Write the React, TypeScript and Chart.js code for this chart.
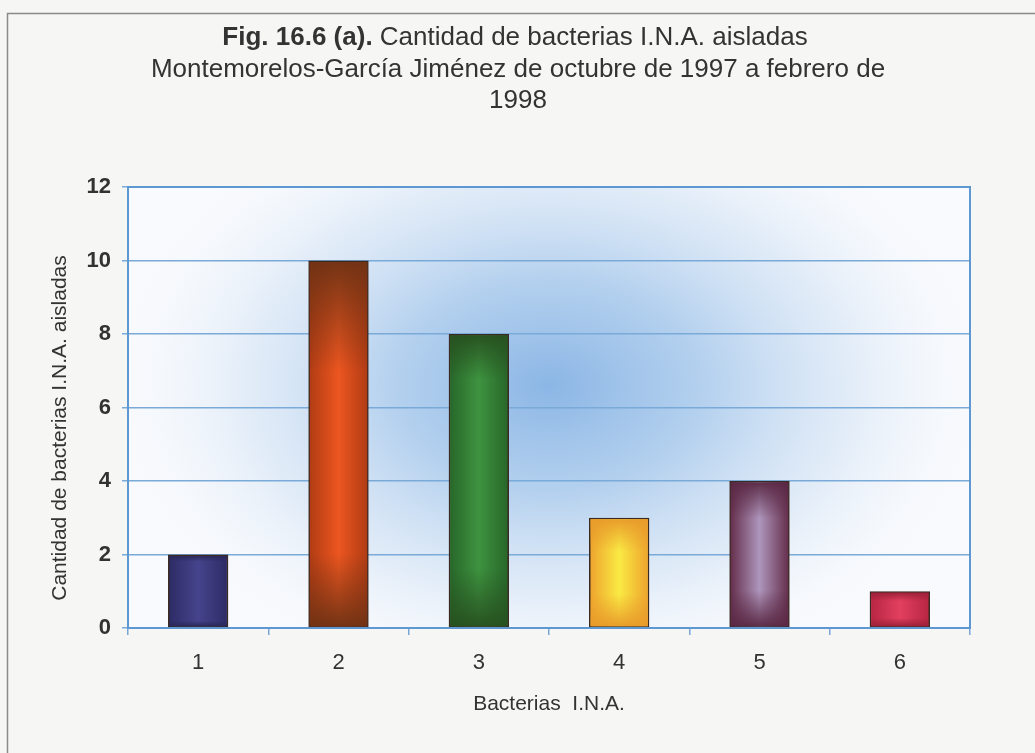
import React, { useEffect, useRef } from "react";
import { Chart, registerables } from "chart.js";

Chart.register(...registerables);

const categories = ["1", "2", "3", "4", "5", "6"];
const counts = [2, 10, 8, 3, 4, 1];
const yTicks = [0, 2, 4, 6, 8, 10, 12];

const barEdge = ["#2e2c66", "#b23c14", "#28682a", "#eea52e", "#66304e", "#b82644"];
const barCenter = ["#45448c", "#ec5620", "#3e9340", "#faea44", "#ae96bc", "#e2405e"];
const barShade = ["#2a2858", "#6e3214", "#27501f", "#e89a2a", "#5a2844", "#9c2038"];
const shadeTop = [0.08, 0.3, 0.15, 0.3, 0.25, 0.25];
const shadeBottom = [0.08, 0.2, 0.2, 0.3, 0.25, 0.25];

const titleBold = "Fig. 16.6 (a).";
const titleRest = " Cantidad de bacterias I.N.A. aisladas";
const titleLine2 = "Montemorelos-García Jiménez de octubre de 1997 a febrero de";
const titleLine3 = "1998";
const yTitle = "Cantidad de bacterias I.N.A. aisladas";
const xTitle = "Bacterias  I.N.A.";

const FONT = "'Liberation Sans', Arial, sans-serif";
const TEXT = "#333333";

function hexA(hex: string, a: number) {
  const n = parseInt(hex.slice(1), 16);
  return `rgba(${(n >> 16) & 255},${(n >> 8) & 255},${n & 255},${a})`;
}

const decor = {
  id: "decor",
  beforeDraw(chart: any) {
    const { ctx, width, height, chartArea: a } = chart;
    ctx.save();
    ctx.fillStyle = "#f6f6f5";
    ctx.fillRect(0, 0, width, height);
    ctx.strokeStyle = "#8a8a8a";
    ctx.lineWidth = 1.5;
    ctx.beginPath();
    ctx.moveTo(7.5, height);
    ctx.lineTo(7.5, 13.5);
    ctx.lineTo(width, 13.5);
    ctx.stroke();
    ctx.fillStyle = "#f8fafd";
    ctx.fillRect(a.left, a.top, a.right - a.left, a.bottom - a.top);
    ctx.save();
    ctx.beginPath();
    ctx.rect(a.left, a.top, a.right - a.left, a.bottom - a.top);
    ctx.clip();
    const cx = a.left + (a.right - a.left) * 0.5;
    const cy = a.top + (a.bottom - a.top) * 0.45;
    ctx.translate(cx, cy);
    ctx.scale(1.45, 1);
    const g = ctx.createRadialGradient(0, 0, 0, 0, 0, 300);
    g.addColorStop(0, "rgba(120,170,225,0.85)");
    g.addColorStop(0.35, "rgba(150,190,232,0.7)");
    g.addColorStop(0.7, "rgba(200,220,242,0.45)");
    g.addColorStop(1, "rgba(240,245,252,0)");
    ctx.fillStyle = g;
    ctx.fillRect(-400, -300, 800, 600);
    ctx.restore();
    ctx.restore();
  },
  afterDatasetsDraw(chart: any) {
    const { ctx } = chart;
    const meta = chart.getDatasetMeta(0);
    ctx.save();
    meta.data.forEach((bar: any, i: number) => {
      const w = bar.width;
      const x0 = bar.x - w / 2 + 1.5;
      const x1 = bar.x + w / 2 - 1.5;
      const y0 = Math.min(bar.y, bar.base) + 1.5;
      const y1 = Math.max(bar.y, bar.base) - 1;
      const h = y1 - y0;
      const hg = ctx.createLinearGradient(x0, 0, x1, 0);
      hg.addColorStop(0, barEdge[i]);
      hg.addColorStop(0.5, barCenter[i]);
      hg.addColorStop(1, barEdge[i]);
      ctx.fillStyle = hg;
      ctx.fillRect(x0, y0, x1 - x0, h);
      const vg = ctx.createLinearGradient(0, y0, 0, y1);
      vg.addColorStop(0, hexA(barShade[i], 0.95));
      vg.addColorStop(shadeTop[i], hexA(barShade[i], 0));
      vg.addColorStop(1 - shadeBottom[i], hexA(barShade[i], 0));
      vg.addColorStop(1, hexA(barShade[i], 0.95));
      ctx.fillStyle = vg;
      ctx.fillRect(x0, y0, x1 - x0, h);
    });
    ctx.restore();
  },
  afterDraw(chart: any) {
    const { ctx, chartArea: a } = chart;
    ctx.save();
    ctx.strokeStyle = "#5d98d2";
    ctx.lineWidth = 2;
    ctx.strokeRect(a.left, a.top, a.right - a.left, a.bottom - a.top);
    ctx.fillStyle = TEXT;
    ctx.textBaseline = "middle";
    const cx = 518;
    ctx.font = `bold 26px ${FONT}`;
    const wb = ctx.measureText(titleBold).width;
    ctx.font = `26px ${FONT}`;
    const wr = ctx.measureText(titleRest).width;
    const sx = 515 - (wb + wr) / 2;
    ctx.textAlign = "left";
    ctx.font = `bold 26px ${FONT}`;
    ctx.fillText(titleBold, sx, 38);
    ctx.font = `26px ${FONT}`;
    ctx.fillText(titleRest, sx + wb, 38);
    ctx.textAlign = "center";
    ctx.fillText(titleLine2, cx, 70);
    ctx.fillText(titleLine3, cx, 101);
    // y axis title
    ctx.save();
    ctx.translate(60, 428);
    ctx.rotate(-Math.PI / 2);
    ctx.font = `21px ${FONT}`;
    ctx.fillText(yTitle, 0, 0);
    ctx.restore();
    ctx.restore();
  },
};

export default function App() {
  const ref = useRef<HTMLCanvasElement | null>(null);
  useEffect(() => {
    if (!ref.current) return;
    const chart = new Chart(ref.current, {
      type: "bar",
      data: {
        labels: categories,
        datasets: [
          {
            data: counts,
            backgroundColor: barCenter,
            borderColor: "#3a2a22",
            borderWidth: 2,
            borderSkipped: false,
            categoryPercentage: 1,
            barPercentage: 0.43,
          },
        ],
      },
      options: {
        animation: false,
        responsive: false,
        devicePixelRatio: 1,
        layout: { padding: { left: 30, right: 65, top: 187, bottom: 25 } },
        plugins: { legend: { display: false }, title: { display: false }, tooltip: { enabled: false } },
        scales: {
          x: {
            offset: true,
            grid: { drawOnChartArea: false, drawTicks: true, tickLength: 7, color: "#7aa6d6", lineWidth: 1.5 },
            border: { display: true, color: "#5d98d2", width: 2 },
            ticks: { color: TEXT, font: { family: FONT, size: 22 }, padding: 15 },
            title: { display: true, text: xTitle, color: TEXT, font: { family: FONT, size: 21 }, padding: { top: 0, bottom: 11 } },
            afterFit: (s: any) => { s.height = 100; },
          },
          y: {
            min: 0,
            max: 12,
            afterBuildTicks: (s: any) => { s.ticks = yTicks.map((v) => ({ value: v })); },
            grid: { color: "#7aaad8", lineWidth: 1.5, drawTicks: true, tickLength: 6 },
            border: { display: true, color: "#5d98d2", width: 2 },
            ticks: { color: TEXT, font: { family: FONT, size: 22, weight: "bold" }, padding: 11 },
            title: { display: false },
            afterFit: (s: any) => { s.width = 98; },
          },
        },
      },
      plugins: [decor],
    });
    return () => chart.destroy();
  }, []);
  return (
    <div style={{ position: "absolute", left: 0, top: 0, width: 1035, height: 753 }}>
      <canvas ref={ref} width={1035} height={753} style={{ display: "block", width: 1035, height: 753 }} />
    </div>
  );
}
